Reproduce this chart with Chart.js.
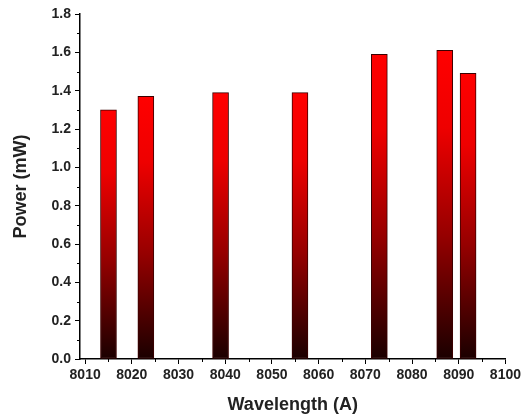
<!DOCTYPE html>
<html>
<head>
<meta charset="utf-8">
<script src="https://cdn.jsdelivr.net/npm/chart.js@4.4.1/dist/chart.umd.min.js"></script>
<style>
  html, body { margin: 0; padding: 0; background: #fff; }
  #wrap { width: 524px; height: 416px; position: relative; }
</style>
</head>
<body>
<div id="wrap"><canvas id="chart"></canvas></div>
<script>
// données
const wavelengths = [8015, 8023, 8039, 8056, 8073, 8087, 8092];
const powers = [1.30, 1.37, 1.39, 1.39, 1.59, 1.61, 1.49];
const xTicks = [8010, 8020, 8030, 8040, 8050, 8060, 8070, 8080, 8090, 8100];
const yTicks = [0, 0.2, 0.4, 0.6, 0.8, 1.0, 1.2, 1.4, 1.6, 1.8];

const FONT = '"Liberation Sans", Arial, sans-serif';

// dégradé rouge -> noir, propre à chaque barre
function barGradient(context) {
    const chart = context.chart;
    if (!chart.chartArea || context.parsed == null) return '#cc0000';
    const yScale = chart.scales.y;
    const top = yScale.getPixelForValue(context.parsed.y);
    const bottom = yScale.getPixelForValue(0);
    const g = chart.ctx.createLinearGradient(0, top, 0, bottom);
    g.addColorStop(0, '#ff0000');
    g.addColorStop(0.25, '#ee0000');
    g.addColorStop(0.6, '#960000');
    g.addColorStop(1, '#1a0000');
    return g;
}

// petites graduations intermédiaires (comme Origin)
const minorTicksPlugin = {
    id: 'minorTicks',
    afterDraw(chart) {
        const { ctx, scales } = chart;
        const xs = scales.x, ys = scales.y;
        ctx.save();
        ctx.strokeStyle = '#000';
        ctx.lineWidth = 1;
        ctx.beginPath();
        for (let i = 0; i < xTicks.length - 1; i++) {
            const px = Math.round(xs.getPixelForValue(xTicks[i] + 5)) + 0.5;
            ctx.moveTo(px, ys.bottom);
            ctx.lineTo(px, ys.bottom + 3);
        }
        for (let i = 0; i < yTicks.length - 1; i++) {
            const py = Math.round(ys.getPixelForValue(yTicks[i] + 0.1)) + 0.5;
            ctx.moveTo(xs.left, py);
            ctx.lineTo(xs.left - 3, py);
        }
        ctx.stroke();
        ctx.restore();
    }
};

new Chart(document.getElementById('chart'), {
    type: 'bar',
    data: {
        datasets: [{
            data: wavelengths.map((w, i) => ({ x: w, y: powers[i] })),
            backgroundColor: barGradient,
            borderColor: '#3a0000',
            borderWidth: 1,
            borderSkipped: false,
            barThickness: 16
        }]
    },
    options: {
        responsive: true,
        maintainAspectRatio: false,
        animation: false,
        layout: { padding: { top: 14, right: 16, left: 2, bottom: 0 } },
        plugins: { legend: { display: false }, tooltip: { enabled: false } },
        scales: {
            x: {
                type: 'linear',
                offset: false,
                min: 8008.9,
                max: 8100,
                afterBuildTicks(scale) { scale.ticks = xTicks.map(v => ({ value: v })); },
                afterFit(scale) { scale.height = 57; },
                grid: { drawOnChartArea: false, drawTicks: true, tickLength: 5, color: '#000', lineWidth: 1, offset: false },
                border: { display: true, color: '#000', width: 1.5 },
                ticks: {
                    padding: 3,
                    color: '#222',
                    maxRotation: 0,
                    autoSkip: false,
                    font: { family: FONT, size: 14, weight: 'bold' },
                    callback: v => String(v)
                },
                title: {
                    display: true,
                    text: 'Wavelength (A)',
                    color: '#222',
                    padding: { top: 6, bottom: 0 },
                    font: { family: FONT, size: 18, weight: 'bold' }
                }
            },
            y: {
                min: 0,
                max: 1.8,
                afterBuildTicks(scale) { scale.ticks = yTicks.map(v => ({ value: v })); },
                afterFit(scale) { scale.width = 78; },
                grid: { drawOnChartArea: false, drawTicks: true, tickLength: 5, color: '#000', lineWidth: 1 },
                border: { display: true, color: '#000', width: 1.5 },
                ticks: {
                    padding: 4,
                    color: '#222',
                    font: { family: FONT, size: 14, weight: 'bold' },
                    callback: v => v.toFixed(1)
                },
                title: {
                    display: true,
                    text: 'Power (mW)',
                    color: '#222',
                    padding: { top: 8, bottom: 0 },
                    font: { family: FONT, size: 18, weight: 'bold' }
                }
            }
        }
    },
    plugins: [minorTicksPlugin]
});
</script>
</body>
</html>
